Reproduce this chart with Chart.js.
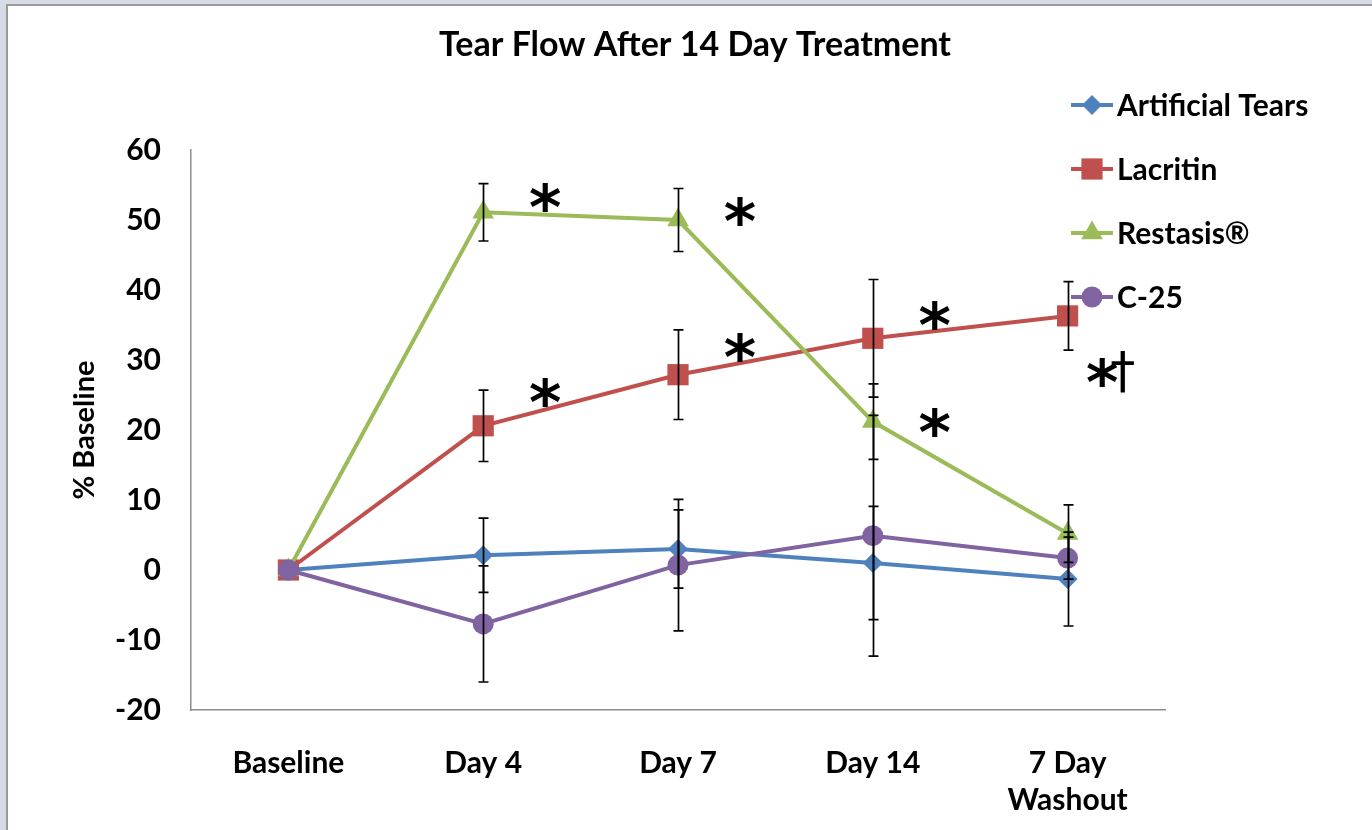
<!DOCTYPE html>
<html>
<head>
<meta charset="utf-8">
<script src="https://cdn.jsdelivr.net/npm/chart.js@4/dist/chart.umd.min.js"></script>
<style>
  body { margin: 0; background: #d7dbe5; overflow: hidden; }
  #frame { position: absolute; left: 6px; top: 4px; width: 1366px; height: 826px;
           background: #fff; border-left: 2px solid #9a9a9a; border-top: 2px solid #9a9a9a; }
  #chart { position: absolute; left: 0; top: 0; }
</style>
</head>
<body>
<div id="frame"></div>
<canvas id="chart" width="1372" height="830"></canvas>
<script>
// values
const categories = ['Baseline', 'Day 4', 'Day 7', 'Day 14', ['7 Day', 'Washout']];
const artificialTears = [0, 2.1, 3.0, 1.0, -1.3];
const artificialTearsErr = [0, 5.3, 5.6, 8.1, 6.7];
const lacritin = [0, 20.6, 27.9, 33.1, 36.3];
const lacritinErr = [0, 5.1, 6.4, 8.4, 4.9];
const restasis = [0, 51.1, 50.0, 21.2, 5.2];
const restasisErr = [0, 4.1, 4.5, 5.4, 4.1];
const c25 = [0, -7.7, 0.7, 4.9, 1.7];
const c25Err = [0, 8.3, 9.4, 17.2, 3.0];
const yMin = -20, yMax = 60, yStep = 10;
// significance marks: category index + value they sit at
const marks = [
  { at: 1, value: 52.9, text: '*' },
  { at: 2, value: 50.9, text: '*' },
  { at: 3, value: 20.7, text: '*' },
  { at: 1, value: 25.0, text: '*' },
  { at: 2, value: 31.4, text: '*' },
  { at: 3, value: 36.0, text: '*' },
  { at: 4, value: 27.9, text: '*\u2020' }
];

const FONT = 'Lato';

function series(label, data, errors, color, style, radius, order) {
  return {
    label: label, data: data, errors: errors,
    borderColor: color, backgroundColor: color,
    pointBackgroundColor: color, pointBorderColor: color,
    pointStyle: style, pointRadius: radius, pointHoverRadius: radius,
    pointBorderWidth: 0, borderWidth: 4, tension: 0, fill: false, order: order
  };
}

const errorBars = {
  id: 'errorBars',
  afterDatasetsDraw(chart) {
    const ctx = chart.ctx, xs = chart.scales.x, ys = chart.scales.y;
    ctx.save();
    ctx.strokeStyle = '#000';
    ctx.lineWidth = 1.7;
    chart.data.datasets.forEach(ds => {
      ds.errors.forEach((e, i) => {
        if (!e) return;
        const px = Math.round(xs.getPixelForValue(i)) + 0.5;
        const top = ys.getPixelForValue(ds.data[i] + e);
        const bot = ys.getPixelForValue(ds.data[i] - e);
        ctx.beginPath();
        ctx.moveTo(px, top); ctx.lineTo(px, bot);
        ctx.moveTo(px - 5, top); ctx.lineTo(px + 5, top);
        ctx.moveTo(px - 5, bot); ctx.lineTo(px + 5, bot);
        ctx.stroke();
      });
    });
    ctx.restore();
  }
};

// the '*' and the dagger are set in different fonts, like the original
const STAR_FONT = 'bold 62px "DejaVu Sans"';
const DAGGER_FONT = '50px "DejaVu Sans"';
const starMarks = {
  id: 'starMarks',
  afterDraw(chart) {
    const ctx = chart.ctx, xs = chart.scales.x, ys = chart.scales.y;
    ctx.save();
    ctx.fillStyle = '#000';
    ctx.textAlign = 'left';
    ctx.textBaseline = 'alphabetic';
    marks.forEach(m => {
      const chars = Array.from(m.text);
      const widths = chars.map(c => { ctx.font = c === '*' ? STAR_FONT : DAGGER_FONT; return ctx.measureText(c).width; });
      const total = widths.reduce((a, b) => a + b, 0) - (chars.length > 1 ? 8 : 0);
      const dx = chars.length > 1 ? 43 : 62;
      let x = xs.getPixelForValue(m.at) + dx - total / 2;
      const yc = ys.getPixelForValue(m.value);
      chars.forEach((c, k) => {
        if (c === '*') {
          ctx.font = STAR_FONT;
          ctx.fillText(c, x, yc + 29);
        } else {
          ctx.font = DAGGER_FONT;
          ctx.fillText(c, x, yc + 12);
        }
        x += widths[k] - (k === 0 && chars.length > 1 ? 8 : 0);
      });
    });
    ctx.restore();
  }
};

const sideLegend = {
  id: 'sideLegend',
  afterDraw(chart) {
    const ctx = chart.ctx;
    ctx.save();
    chart.data.datasets.forEach((ds, i) => {
      const y = 105 + i * 64;
      ctx.strokeStyle = ds.borderColor;
      ctx.lineWidth = 4;
      ctx.beginPath(); ctx.moveTo(1071, y); ctx.lineTo(1113, y); ctx.stroke();
      ctx.fillStyle = ds.backgroundColor;
      Chart.helpers.drawPoint(ctx, { pointStyle: ds.pointStyle, radius: ds.pointRadius, rotation: 0, borderWidth: 0 }, 1092, y);
      ctx.fillStyle = '#000';
      ctx.font = 'bold 30px ' + FONT;
      ctx.textAlign = 'left';
      ctx.textBaseline = 'middle';
      ctx.fillText(ds.label, 1117, y + 1);
    });
    ctx.restore();
  }
};

// centre the title on the whole page rather than on the padded chart box
const titleCentre = {
  id: 'titleCentre',
  afterLayout(chart) {
    const t = chart.titleBlock;
    if (t) { t.left = 18; t.right = 1372; }
  }
};

new Chart(document.getElementById('chart'), {
  type: 'line',
  data: {
    labels: categories,
    datasets: [
      series('Artificial Tears', artificialTears, artificialTearsErr, '#4f81bd', 'rectRot', 10, 4),
      series('Lacritin', lacritin, lacritinErr, '#c0504d', 'rect', 15, 3),
      series('Restasis\u00ae', restasis, restasisErr, '#9bbb59', 'triangle', 12.5, 2),
      series('C-25', c25, c25Err, '#8064a2', 'circle', 10.5, 1)
    ]
  },
  options: {
    responsive: false,
    animation: false,
    layout: { padding: { left: 60, right: 207, top: 0, bottom: 0 } },
    plugins: {
      legend: { display: false },
      tooltip: { enabled: false },
      title: {
        display: true,
        text: 'Tear Flow After 14 Day Treatment',
        color: '#000',
        font: { family: FONT, size: 34, weight: 'bold', lineHeight: 1.2 },
        padding: { top: 25, bottom: 84.2 }
      }
    },
    scales: {
      x: {
        offset: true,
        grid: { display: false },
        border: { display: true, color: '#8c8c8c', width: 1.5 },
        ticks: { color: '#000', padding: 26.5, maxRotation: 0,
                 font: { family: FONT, size: 30, weight: 'bold', lineHeight: 1.233 } },
        afterFit(s) { s.height = 120; }
      },
      y: {
        min: yMin, max: yMax,
        grid: { display: false },
        border: { display: true, color: '#8c8c8c', width: 1.5 },
        ticks: { stepSize: yStep, color: '#000', padding: 22,
                 font: { family: FONT, size: 30, weight: 'bold' } },
        title: { display: true, text: '% Baseline', color: '#000',
                 font: { family: FONT, size: 29, weight: 'bold', lineHeight: 1.2 },
                 padding: { top: 7.6, bottom: 0 } },
        afterFit(s) { s.width = 131; }
      }
    }
  },
  plugins: [titleCentre, errorBars, starMarks, sideLegend]
});
</script>
</body>
</html>
